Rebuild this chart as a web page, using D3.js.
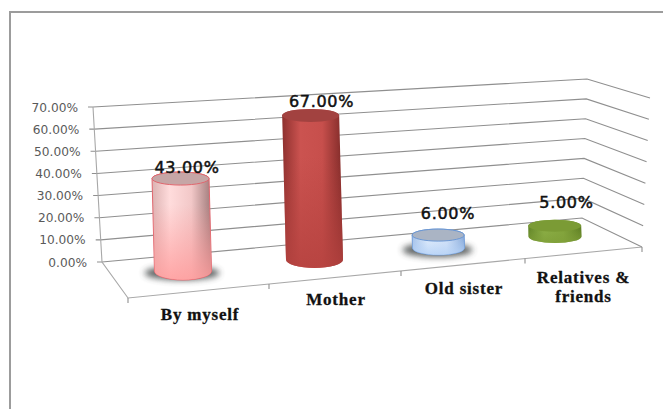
<!DOCTYPE html>
<html>
<head>
<meta charset="utf-8">
<script src="https://cdn.jsdelivr.net/npm/d3@7"></script>
<style>
    html, body { margin: 0; padding: 0; background: #fff; }
    svg { display: block; }
</style>
</head>
<body>
<svg id="viz"></svg>
<script>
const CANVAS_WIDTH = 663
const CANVAS_HEIGHT = 409

const CATEGORIES = ['By myself', 'Mother', 'Old sister', 'Relatives & friends']
const VALUES = [43, 67, 6, 5]
const VALUE_TICKS = [0, 10, 20, 30, 40, 50, 60, 70]

const BODY_STOPS = [
    ['#dcb2b2', '#ffdcdc', '#f2c8c8', '#a07a7a'],
    ['#8e302e', '#cb5350', '#c74f4c', '#7f2a28'],
    ['#a3c0e8', '#e2edfb', '#d6e4f8', '#86a8d8'],
    ['#5f8226', '#8db048', '#84a63e', '#5c7c22']
]
const STOP_OFFSETS = [0, 0.3, 0.66, 1]
const BODY_BOTTOM = ['#ff9c9c', '#b5423f', '#b5d2f7', '#7f9f38']
const TOP_FILL = ['#c6a6a6', '#a24240', '#aab4c4', '#7b9b35']
const OUTLINE = ['#e0666e', 'none', '#6c98d4', 'none']
const WITH_SHADOW = ['By myself', 'Old sister']

const fmtPct = v => `${v.toFixed(2)}%`

// The chart box is a slanted projection, so each edge of it gets its own scale
const wallLeftX = d3.scaleLinear([0, 70], [102, 93])
const wallLeftY = d3.scaleLinear([0, 70], [262, 107])
const cornerX = d3.scaleLinear([0, 70], [582, 587])
const cornerY = d3.scaleLinear([0, 70], [218, 79])
const sideX = d3.scaleLinear([0, 70], [642, 650])
const sideY = d3.scaleLinear([0, 70], [247, 98])

const baseX = d3.scaleOrdinal(CATEGORIES, [183, 314.5, 438.5, 555])
const baseY = d3.scaleOrdinal(CATEGORIES, [271, 259.5, 248, 236.5])
const radius = d3.scaleOrdinal(CATEGORIES, [28.5, 28.5, 26, 26.5])
const bottomRy = d3.scaleOrdinal(CATEGORIES, [9, 8.5, 7, 6.5])
const topRy = d3.scaleOrdinal(CATEGORIES, [6.5, 6.5, 6, 6])
const rise = d3.scaleLinear([0, 70], [0, 150.5])
const lean = d3.scaleLinear([0, 70], [0, -4])

const labelX = d3.scaleOrdinal(CATEGORIES, [187, 321.5, 448, 566.5])
const labelY = d3.scaleOrdinal(CATEGORIES, [173, 107, 219, 208])
const nameX = d3.scaleOrdinal(CATEGORIES, [200, 336, 464, 583.5])
const nameY = d3.scaleOrdinal(CATEGORIES, [320, 305, 294, 283])

const floorFront = d3.scaleLinear([0, 4], [128, 642])
const floorFrontY = d3.scaleLinear([128, 642], [298, 247])
const floorTicks = [128, 269, 401, 525, 642]

const svg = d3.select('#viz')
    .attr('width', CANVAS_WIDTH)
    .attr('height', CANVAS_HEIGHT)

const defs = svg.append('defs')

defs.append('filter')
    .attr('id', 'soft-shadow')
    .attr('x', '-30%').attr('y', '-80%').attr('width', '160%').attr('height', '260%')
    .append('feGaussianBlur')
    .attr('stdDeviation', 3.2)

CATEGORIES.forEach((name, i) => {
    const across = defs.append('linearGradient').attr('id', `across-${i}`)
    across.selectAll('stop')
        .data(BODY_STOPS[i])
        .enter().append('stop')
        .attr('offset', (d, j) => STOP_OFFSETS[j])
        .attr('stop-color', d => d)

    // darker or more saturated towards the foot of the cylinder
    const down = defs.append('linearGradient')
        .attr('id', `down-${i}`)
        .attr('x1', 0).attr('x2', 0).attr('y1', 0).attr('y2', 1)
    down.append('stop').attr('offset', 0.3).attr('stop-color', BODY_BOTTOM[i]).attr('stop-opacity', 0)
    down.append('stop').attr('offset', 1).attr('stop-color', BODY_BOTTOM[i]).attr('stop-opacity', 0.85)
})

// outer frame, only the top and left edges show
svg.append('path')
    .attr('d', `M10,${CANVAS_HEIGHT}V12H${CANVAS_WIDTH}`)
    .attr('fill', 'none')
    .attr('stroke', '#9c9c9c')
    .attr('stroke-width', 2)

const grid = svg.append('g')
    .attr('fill', 'none')
    .attr('stroke', '#8f8f8f')
    .attr('stroke-width', 1.1)

grid.selectAll('path.gridline')
    .data(VALUE_TICKS)
    .enter().append('path')
    .attr('class', 'gridline')
    .attr('d', v => d3.line()([
        [wallLeftX(v) - 5, wallLeftY(v)],
        [wallLeftX(v), wallLeftY(v)],
        [cornerX(v), cornerY(v)],
        [sideX(v), sideY(v)]
    ]))

grid.append('path')
    .attr('stroke', '#a8a8a8')
    .attr('d', d3.line()([
        [wallLeftX(70), wallLeftY(70)],
        [wallLeftX(0), wallLeftY(0)],
        [floorFront(0), floorFrontY(floorFront(0))],
        [floorFront(4), floorFrontY(floorFront(4))]
    ]))

grid.selectAll('path.floor-tick')
    .data(floorTicks)
    .enter().append('path')
    .attr('class', 'floor-tick')
    .attr('d', x => d3.line()([[x, floorFrontY(x)], [x, floorFrontY(x) + 5]]))

svg.append('g')
    .attr('font-family', '"DejaVu Sans"')
    .attr('font-size', 12.2)
    .attr('fill', '#595959')
    .attr('text-anchor', 'end')
    .selectAll('text')
    .data(VALUE_TICKS)
    .enter().append('text')
    .attr('x', v => wallLeftX(v) - 15)
    .attr('y', v => wallLeftY(v) + 4.5)
    .text(fmtPct)

const bars = CATEGORIES.map((name, i) => ({ name, i, value: VALUES[i] }))

svg.append('g')
    .selectAll('ellipse')
    .data(bars.filter(d => WITH_SHADOW.includes(d.name)))
    .enter().append('ellipse')
    .attr('cx', d => baseX(d.name) - 1)
    .attr('cy', d => baseY(d.name) + 2)
    .attr('rx', d => radius(d.name) + 9)
    .attr('ry', 7)
    .attr('fill', '#3f4545')
    .attr('opacity', 0.85)
    .attr('filter', 'url(#soft-shadow)')

const bodyPath = d => {
    const r = radius(d.name)
    const x0 = baseX(d.name)
    const y0 = baseY(d.name)
    const x1 = x0 + lean(d.value)
    const y1 = y0 - rise(d.value)
    return `M${x1 - r},${y1}L${x0 - r},${y0}`
        + `A${r},${bottomRy(d.name)} 0 0 0 ${x0 + r},${y0}`
        + `L${x1 + r},${y1}`
        + `A${r},${topRy(d.name)} 0 0 0 ${x1 - r},${y1}Z`
}

const cylinders = svg.append('g')
    .selectAll('g')
    .data(bars)
    .enter().append('g')

cylinders.append('path')
    .attr('d', bodyPath)
    .attr('fill', d => `url(#across-${d.i})`)
    .attr('stroke', d => OUTLINE[d.i])
    .attr('stroke-width', 1)

cylinders.append('path')
    .attr('d', bodyPath)
    .attr('fill', d => `url(#down-${d.i})`)

cylinders.append('ellipse')
    .attr('cx', d => baseX(d.name) + lean(d.value))
    .attr('cy', d => baseY(d.name) - rise(d.value))
    .attr('rx', d => radius(d.name))
    .attr('ry', d => topRy(d.name))
    .attr('fill', d => TOP_FILL[d.i])
    .attr('stroke', d => OUTLINE[d.i])
    .attr('stroke-width', 1)

svg.append('g')
    .attr('font-family', '"DejaVu Sans"')
    .attr('font-size', 16)
    .attr('fill', '#111')
    .attr('stroke', '#111')
    .attr('stroke-width', 0.5)
    .attr('text-anchor', 'middle')
    .attr('letter-spacing', 0.7)
    .selectAll('text')
    .data(bars)
    .enter().append('text')
    .attr('x', d => labelX(d.name))
    .attr('y', d => labelY(d.name))
    .text(d => fmtPct(d.value))

// category names, long ones wrap onto a second line
const names = svg.append('g')
    .attr('font-family', '"Liberation Serif"')
    .attr('font-weight', 'bold')
    .attr('font-size', 17)
    .attr('letter-spacing', 0.8)
    .attr('fill', '#111')
    .attr('stroke', '#111')
    .attr('stroke-width', 0.3)
    .attr('text-anchor', 'middle')
    .selectAll('text')
    .data(bars)
    .enter().append('text')
    .attr('y', d => nameY(d.name))

names.selectAll('tspan')
    .data(d => (d.name.includes('&') ? ['Relatives &', 'friends'] : [d.name]).map(line => ({ line, name: d.name })))
    .enter().append('tspan')
    .attr('x', d => nameX(d.name))
    .attr('dy', (d, i) => i ? 19 : 0)
    .text(d => d.line)
</script>
</body>
</html>
